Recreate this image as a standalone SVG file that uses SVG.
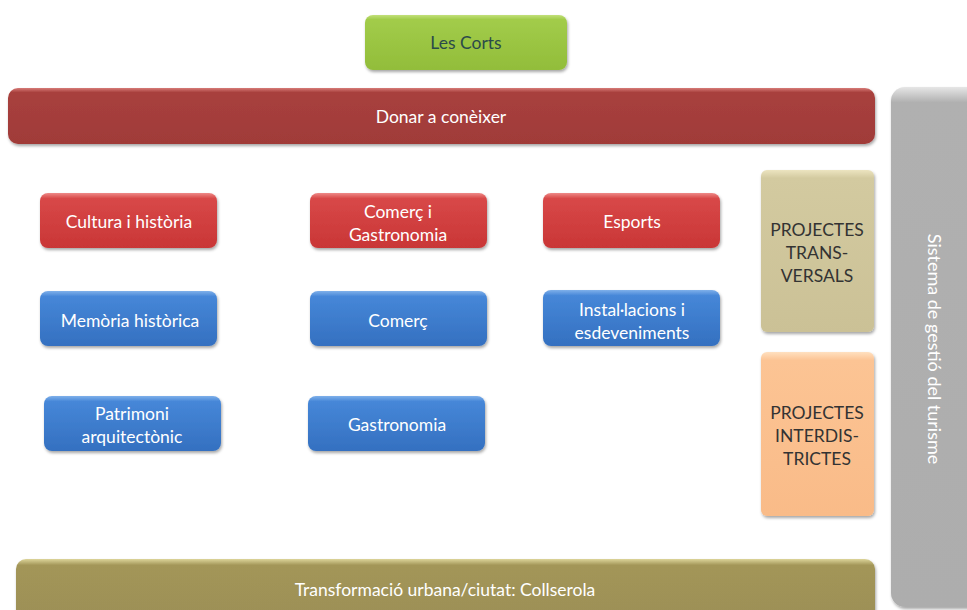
<svg xmlns="http://www.w3.org/2000/svg" width="967" height="610" viewBox="0 0 967 610">
<defs>
<filter id="sh" x="-10%" y="-10%" width="120%" height="130%">
<feDropShadow dx="1" dy="2" stdDeviation="1.5" flood-color="#000" flood-opacity="0.35"/>
</filter>
<linearGradient id="gGreen" x1="0" y1="0" x2="0" y2="1">
<stop offset="0" stop-color="#c2e07a"/><stop offset="0.08" stop-color="#a2cc4a"/><stop offset="1" stop-color="#92bd3a"/>
</linearGradient>
<linearGradient id="gDark" x1="0" y1="0" x2="0" y2="1">
<stop offset="0" stop-color="#d77a78"/><stop offset="0.08" stop-color="#a8403d"/><stop offset="1" stop-color="#a03b39"/>
</linearGradient>
<linearGradient id="gRed" x1="0" y1="0" x2="0" y2="1">
<stop offset="0" stop-color="#ee8a88"/><stop offset="0.1" stop-color="#d84848"/><stop offset="1" stop-color="#c93636"/>
</linearGradient>
<linearGradient id="gBlue" x1="0" y1="0" x2="0" y2="1">
<stop offset="0" stop-color="#7fb0ea"/><stop offset="0.1" stop-color="#4687d8"/><stop offset="1" stop-color="#3470c0"/>
</linearGradient>
<linearGradient id="gTan" x1="0" y1="0" x2="0" y2="1">
<stop offset="0" stop-color="#ece4c0"/><stop offset="0.05" stop-color="#d3caa0"/><stop offset="1" stop-color="#cbc196"/>
</linearGradient>
<linearGradient id="gPeach" x1="0" y1="0" x2="0" y2="1">
<stop offset="0" stop-color="#ffe0c0"/><stop offset="0.05" stop-color="#fcc494"/><stop offset="1" stop-color="#f9bb88"/>
</linearGradient>
<linearGradient id="gOlive" x1="0" y1="0" x2="0" y2="1">
<stop offset="0" stop-color="#ddd59a"/><stop offset="0.1" stop-color="#a39658"/><stop offset="1" stop-color="#9c8f57"/>
</linearGradient>
<linearGradient id="gGray" x1="0" y1="0" x2="0" y2="1">
<stop offset="0" stop-color="#e6e6e6"/><stop offset="0.03" stop-color="#b0b0b0"/><stop offset="1" stop-color="#adadad"/>
</linearGradient>
</defs>
<style>
text{font-family:Lato,"Open Sans","Liberation Sans",sans-serif;font-size:17.5px;text-anchor:middle}
.w{fill:#ffffff}
.d{fill:#333333}
.box{filter:url(#sh)}
</style>
<rect width="967" height="610" fill="#ffffff"/>
<g id="gray-bar">
<rect class="box" x="891" y="87" width="100" height="520" rx="14" fill="url(#gGray)"/>
<text class="w" transform="translate(934,349) rotate(90)" dy="6" style="font-size:18px">Sistema de gestió del turisme</text>
</g>
<g id="les-corts">
<rect class="box" x="365" y="15" width="202" height="55" rx="8" fill="url(#gGreen)"/>
<text x="466" y="49" style="fill:#2b4a4a">Les Corts</text>
</g>
<g id="donar">
<rect class="box" x="8" y="88" width="867" height="56" rx="10" fill="url(#gDark)"/>
<text class="w" x="441" y="123">Donar a conèixer</text>
</g>
<g id="cultura">
<rect class="box" x="40" y="193" width="177" height="55" rx="8" fill="url(#gRed)"/>
<text class="w" x="129" y="228">Cultura i història</text>
</g>
<g id="comerc-gastro">
<rect class="box" x="310" y="193" width="177" height="55" rx="8" fill="url(#gRed)"/>
<text class="w" x="398" y="218">Comerç i</text>
<text class="w" x="398" y="241">Gastronomia</text>
</g>
<g id="esports">
<rect class="box" x="543" y="193" width="177" height="55" rx="8" fill="url(#gRed)"/>
<text class="w" x="632" y="228">Esports</text>
</g>
<g id="memoria">
<rect class="box" x="40" y="291" width="177" height="55" rx="8" fill="url(#gBlue)"/>
<text class="w" x="130" y="327">Memòria històrica</text>
</g>
<g id="comerc">
<rect class="box" x="310" y="291" width="177" height="55" rx="8" fill="url(#gBlue)"/>
<text class="w" x="398" y="327">Comerç</text>
</g>
<g id="installacions">
<rect class="box" x="543" y="290" width="177" height="56" rx="8" fill="url(#gBlue)"/>
<text class="w" x="632" y="316">Instal·lacions i</text>
<text class="w" x="632" y="339">esdeveniments</text>
</g>
<g id="patrimoni">
<rect class="box" x="44" y="396" width="177" height="55" rx="8" fill="url(#gBlue)"/>
<text class="w" x="132" y="420">Patrimoni</text>
<text class="w" x="132" y="443">arquitectònic</text>
</g>
<g id="gastronomia">
<rect class="box" x="308" y="396" width="177" height="55" rx="8" fill="url(#gBlue)"/>
<text class="w" x="397" y="431">Gastronomia</text>
</g>
<g id="transversals">
<rect class="box" x="761" y="170" width="113" height="162" rx="6" fill="url(#gTan)"/>
<text class="d" x="817" y="236">PROJECTES</text>
<text class="d" x="817" y="259">TRANS-</text>
<text class="d" x="817" y="282">VERSALS</text>
</g>
<g id="interdistrictes">
<rect class="box" x="761" y="352" width="113" height="164" rx="6" fill="url(#gPeach)"/>
<text class="d" x="817" y="419">PROJECTES</text>
<text class="d" x="817" y="442">INTERDIS-</text>
<text class="d" x="817" y="465">TRICTES</text>
</g>
<g id="transformacio">
<rect class="box" x="16" y="559" width="859" height="62" rx="10" fill="url(#gOlive)"/>
<text class="w" x="445" y="596">Transformació urbana/ciutat: Collserola</text>
</g>
<g id="connectors"></g>
</svg>
